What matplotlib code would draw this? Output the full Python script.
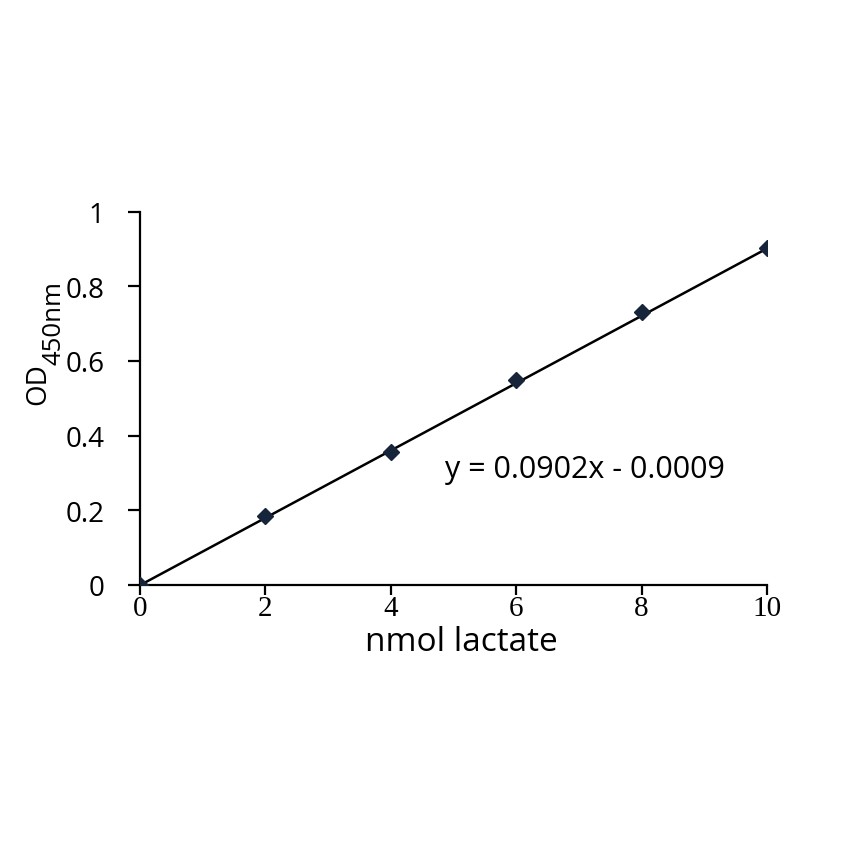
import numpy as np
import matplotlib
matplotlib.use("Agg")
import matplotlib.pyplot as plt

plt.rcParams['font.family'] = ['Open Sans', 'DejaVu Sans']

nmol = [0, 2, 4, 6, 8, 10]
od = [0.0, 0.185, 0.357, 0.55, 0.732, 0.903]
slope = 0.0902
intercept = -0.0009
equation = "y = 0.0902x - 0.0009"
xticks = [0, 2, 4, 6, 8, 10]
yticks = [0, 0.2, 0.4, 0.6, 0.8, 1]
ytick_labels = ["0", "0.2", "0.4", "0.6", "0.8", "1"]

W = 854
fig = plt.figure(figsize=(8.54, 8.54), dpi=100)
ax = fig.add_axes([0.164, 0.314, 0.734, 0.437])

fx = np.array([0, 10])
ax.plot(fx, slope * fx + intercept, color='black', lw=1.8, zorder=2)
ax.plot(nmol, od, linestyle='none', marker='D', ms=8.5, color='#17253b', zorder=3)

ax.set_xlim(0, 10)
ax.set_ylim(0, 1)
ax.set_xticks(xticks)
ax.set_xticklabels([str(v) for v in xticks], fontsize=21, family='Liberation Serif')
ax.set_yticks(yticks)
ax.set_yticklabels(ytick_labels, fontsize=20)
for s in ['top', 'right']:
    ax.spines[s].set_visible(False)
for s in ['left', 'bottom']:
    ax.spines[s].set_linewidth(1.6)
ax.tick_params(axis='y', direction='out', length=8.6, width=1.6, pad=17)
ax.tick_params(axis='x', direction='out', length=7, width=1.6, pad=0.5)

ax.set_xlabel('nmol lactate', fontsize=24)
ax.xaxis.set_label_coords(0.512, -0.108)

# y label: "OD" with a large subscript "450nm"
fig.text(45 / W, 449 / W, 'OD', fontsize=20, rotation=90,
         rotation_mode='anchor', ha='left', va='baseline')
fig.text(61 / W, 489 / W, '450nm', fontsize=18.5, rotation=90,
         rotation_mode='anchor', ha='left', va='baseline')

ax.text(4.86, 0.2895, equation, fontsize=22, ha='left', va='baseline')

fig.savefig('out.png', dpi=100, facecolor='white')
